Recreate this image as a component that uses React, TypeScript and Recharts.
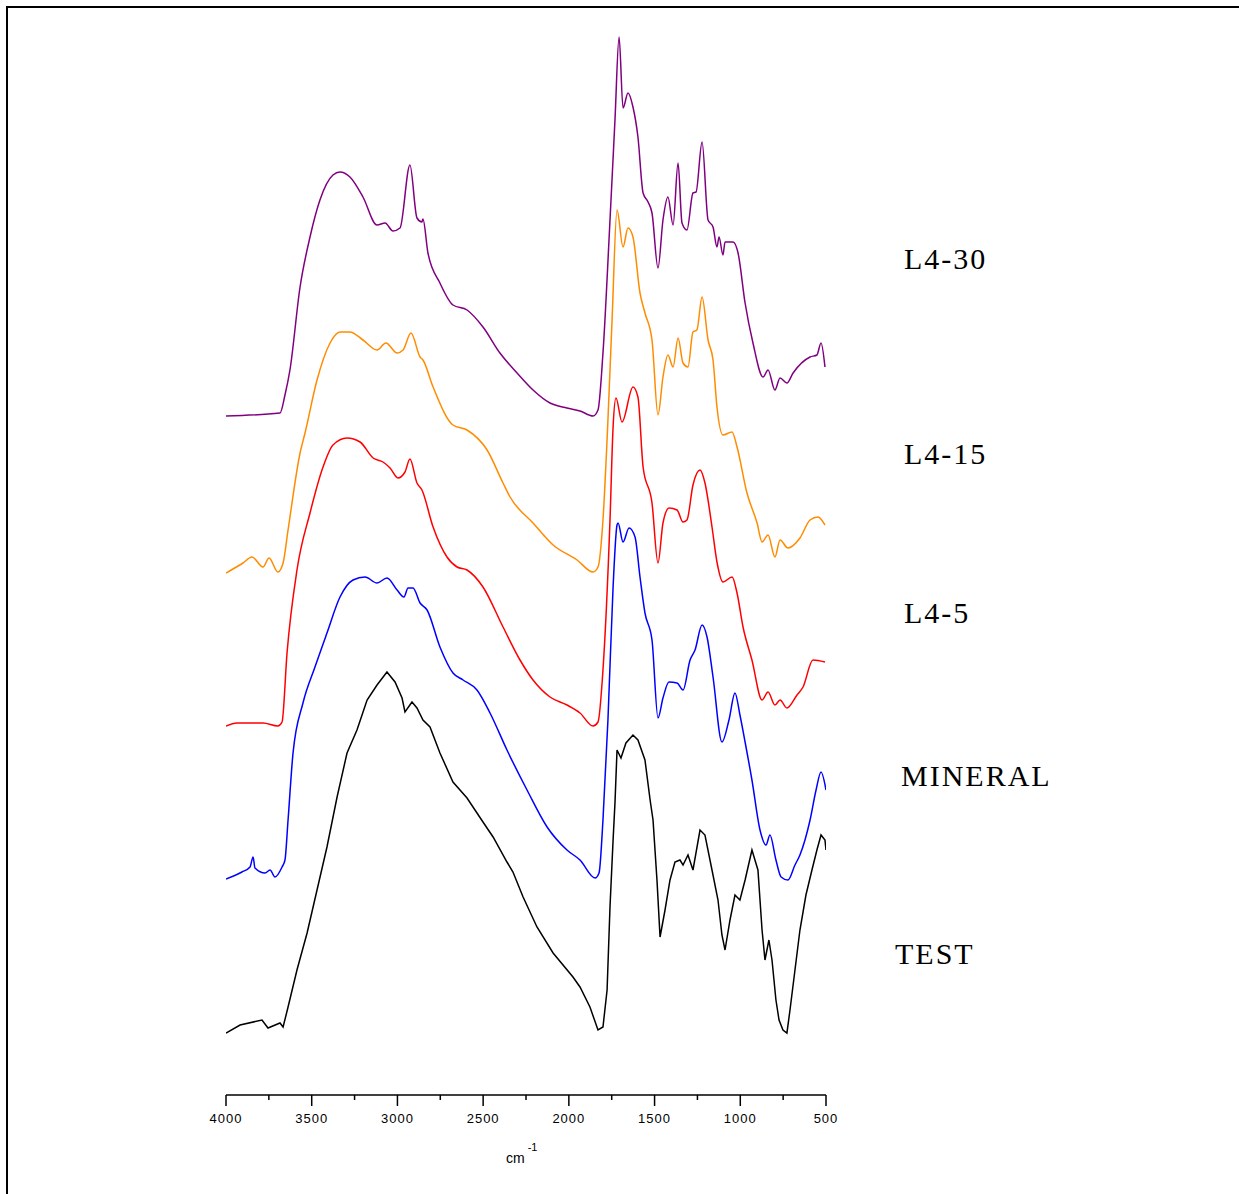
import React from "react";
import { LineChart, Line, XAxis, YAxis } from "recharts";

// FTIR spectra (wavenumber cm-1, offset absorbance in arbitrary units)
const L4_30: [number, number][] = [
  [4000, 679], [3685, 682], [3656, 700], [3627, 725], [3568, 808], [3510, 858], [3452, 895], [3376, 920], [3335, 923],
  [3277, 918], [3201, 898], [3119, 870], [3072, 872], [3026, 864], [2985, 867], [2927, 930], [2886, 877],
  [2857, 873], [2851, 876], [2822, 842], [2752, 812], [2676, 790], [2594, 785], [2501, 768], [2402, 742],
  [2302, 722], [2209, 705], [2110, 692], [2011, 687], [1935, 684], [1859, 679], [1830, 685], [1801, 742],
  [1760, 875], [1731, 975], [1707, 1058], [1684, 987], [1655, 1002], [1626, 988], [1597, 958], [1567, 902],
  [1538, 893], [1515, 882], [1480, 827], [1451, 875], [1422, 898], [1392, 870], [1363, 932], [1340, 872],
  [1311, 865], [1276, 902], [1258, 903], [1223, 953], [1188, 875], [1159, 868], [1136, 848], [1124, 858],
  [1101, 840], [1089, 853], [1042, 853], [1013, 842], [972, 792], [926, 752], [867, 718], [838, 725],
  [798, 705], [768, 717], [728, 712], [692, 722], [593, 738], [553, 740], [529, 752], [506, 728],
];

const L4_15: [number, number][] = [
  [4000, 522], [3901, 532], [3848, 538], [3784, 528], [3749, 537], [3697, 523], [3667, 532], [3638, 565],
  [3568, 642], [3539, 662], [3469, 715], [3393, 752], [3335, 763], [3277, 763], [3201, 755], [3119, 745],
  [3067, 752], [3002, 742], [2967, 745], [2921, 762], [2868, 738], [2851, 735], [2792, 708], [2676, 670],
  [2594, 665], [2477, 645], [2384, 612], [2343, 598], [2209, 572], [2092, 550], [1952, 535], [1859, 523],
  [1830, 528], [1801, 575], [1772, 675], [1748, 775], [1719, 885], [1684, 848], [1655, 867], [1626, 858],
  [1585, 802], [1556, 782], [1515, 755], [1480, 680], [1451, 718], [1422, 740], [1392, 728], [1363, 757],
  [1334, 732], [1305, 728], [1276, 763], [1253, 765], [1223, 798], [1188, 755], [1159, 735], [1136, 688],
  [1101, 660], [1048, 663], [1019, 648], [961, 602], [902, 572], [873, 553], [838, 560], [798, 538],
  [768, 555], [722, 547], [652, 557], [593, 575], [547, 578], [506, 570],
];

const L4_5: [number, number][] = [
  [4000, 369], [3936, 372], [3784, 372], [3697, 369], [3673, 373], [3644, 442], [3586, 525], [3510, 582],
  [3434, 628], [3376, 650], [3294, 657], [3218, 653], [3142, 637], [3084, 633], [3043, 627], [2997, 617],
  [2956, 623], [2927, 636], [2886, 612], [2857, 605], [2792, 568], [2711, 538], [2652, 528], [2594, 525],
  [2501, 508], [2384, 468], [2285, 435], [2209, 415], [2110, 398], [2011, 390], [1935, 382], [1859, 369],
  [1830, 373], [1801, 425], [1760, 575], [1742, 668], [1725, 697], [1690, 673], [1626, 708], [1597, 698],
  [1567, 628], [1515, 592], [1480, 532], [1451, 572], [1416, 587], [1369, 585], [1334, 573], [1311, 575],
  [1276, 610], [1235, 625], [1206, 612], [1165, 568], [1136, 533], [1101, 513], [1048, 518], [1019, 502],
  [984, 468], [932, 435], [873, 395], [838, 403], [798, 390], [768, 395], [728, 387], [669, 400],
  [634, 408], [576, 435], [506, 433],
];

const MINERAL: [number, number][] = [
  [4000, 216], [3907, 223], [3860, 228], [3842, 238], [3831, 227], [3772, 222], [3743, 225], [3714, 218],
  [3673, 228], [3656, 235], [3638, 275], [3609, 342], [3551, 392], [3481, 428], [3411, 462], [3335, 498],
  [3259, 515], [3189, 518], [3119, 512], [3061, 517], [3002, 505], [2962, 498], [2938, 507], [2909, 507],
  [2868, 492], [2827, 485], [2752, 448], [2676, 422], [2617, 415], [2536, 405], [2460, 382], [2361, 345],
  [2244, 305], [2127, 268], [2011, 245], [1935, 235], [1847, 217], [1824, 222], [1801, 275], [1772, 375],
  [1742, 508], [1719, 570], [1713, 572], [1684, 553], [1649, 567], [1614, 558], [1585, 518], [1556, 482],
  [1515, 455], [1480, 377], [1451, 397], [1416, 413], [1369, 412], [1334, 405], [1293, 435], [1264, 445],
  [1223, 470], [1194, 458], [1159, 418], [1107, 353], [1066, 375], [1031, 402], [1002, 380], [972, 353],
  [932, 315], [885, 265], [850, 250], [827, 260], [792, 235], [762, 218], [722, 215], [681, 230],
  [652, 240], [593, 275], [558, 305], [529, 323], [500, 305],
];

const TEST: [number, number][] = [
  [4000, 62], [3918, 70], [3790, 75], [3755, 67], [3685, 72], [3667, 68], [3638, 88], [3586, 125],
  [3527, 162], [3469, 205], [3411, 248], [3352, 298], [3294, 342], [3236, 365], [3177, 395], [3119, 410],
  [3061, 423], [3014, 413], [2973, 397], [2956, 383], [2915, 393], [2886, 387], [2851, 375], [2810, 368],
  [2752, 342], [2676, 313], [2594, 297], [2501, 273], [2442, 258], [2361, 233], [2326, 223], [2267, 198],
  [2186, 168], [2092, 142], [1976, 118], [1935, 108], [1877, 88], [1830, 65], [1801, 68], [1777, 105],
  [1760, 188], [1742, 255], [1731, 292], [1719, 345], [1696, 337], [1667, 352], [1626, 360], [1597, 355],
  [1556, 335], [1526, 295], [1509, 275], [1486, 215], [1468, 158], [1439, 185], [1410, 215], [1381, 233],
  [1352, 235], [1334, 230], [1305, 240], [1276, 225], [1235, 265], [1206, 260], [1165, 225], [1130, 195],
  [1107, 160], [1089, 145], [1060, 175], [1031, 200], [1002, 195], [972, 215], [932, 245], [897, 225],
  [873, 165], [856, 135], [833, 155], [815, 135], [792, 95], [774, 75], [751, 65], [728, 62],
  [710, 85], [681, 125], [652, 165], [617, 200], [582, 225], [553, 245], [529, 260], [506, 255], [500, 245],
];

const MAJOR_TICKS = [4000, 3500, 3000, 2500, 2000, 1500, 1000, 500];
const MINOR_TICKS = [3750, 3250, 2750, 2250, 1750, 1250, 750];

const SERIES = [
  { name: "L4-30", points: L4_30, color: "#800080", curve: "monotone" },
  { name: "L4-15", points: L4_15, color: "#FF8C00", curve: "monotone" },
  { name: "L4-5", points: L4_5, color: "#FF0000", curve: "monotone" },
  { name: "MINERAL", points: MINERAL, color: "#0000FF", curve: "monotone" },
  { name: "TEST", points: TEST, color: "#000000", curve: "linear" },
];

const LABELS = [
  { text: "L4-30", left: 904, top: 241 },
  { text: "L4-15", left: 904, top: 436 },
  { text: "L4-5", left: 904, top: 595 },
  { text: "MINERAL", left: 901, top: 758 },
  { text: "TEST", left: 895, top: 936 },
];

const toData = (pts: [number, number][]) => pts.map(([x, y]) => ({ x, y }));

const Tick = (props: any) => {
  const { x, y, payload } = props;
  const v = payload.value;
  const major = MAJOR_TICKS.includes(v);
  return (
    <g>
      <line x1={x} y1={y} x2={x} y2={y + (major ? 11 : 5)} stroke="#000" strokeWidth={1.5} />
      {major && (
        <text
          x={x}
          y={y + 28}
          textAnchor="middle"
          fontFamily="Liberation Sans, Arial, sans-serif"
          fontSize={13}
          letterSpacing={1}
          fill="#000"
        >
          {v}
        </text>
      )}
    </g>
  );
};

export default function App() {
  return (
    <div
      style={{
        position: "absolute",
        left: 0,
        top: 0,
        width: 1239,
        height: 1194,
        background: "#fff",
        overflow: "hidden",
      }}
    >
      <div
        style={{
          position: "absolute",
          left: 6,
          top: 6,
          width: 1260,
          height: 1220,
          borderTop: "2px solid #000",
          borderLeft: "2px solid #000",
        }}
      />
      <LineChart
        width={1239}
        height={1194}
        margin={{ top: 5, right: 413, left: 226, bottom: 59 }}
        style={{ position: "absolute", left: 0, top: 0 }}
      >
        <XAxis
          type="number"
          dataKey="x"
          domain={[500, 4000]}
          reversed
          ticks={[...MAJOR_TICKS, ...MINOR_TICKS].sort((a, b) => b - a)}
          interval={0}
          tickSize={0}
          tickMargin={0}
          tickLine={false}
          tick={<Tick />}
          axisLine={{ stroke: "#000", strokeWidth: 1.5 }}
          height={40}
          allowDataOverflow
        />
        <YAxis type="number" dataKey="y" domain={[0, 1090]} hide allowDataOverflow />
        {SERIES.map((s) => (
          <Line
            key={s.name}
            data={toData(s.points)}
            dataKey="y"
            type={s.curve as any}
            stroke={s.color}
            strokeWidth={1.5}
            dot={false}
            activeDot={false}
            isAnimationActive={false}
          />
        ))}
      </LineChart>
      <div
        style={{
          position: "absolute",
          left: 506,
          top: 1150,
          fontFamily: "Liberation Sans, Arial, sans-serif",
          fontSize: 14,
          color: "#000",
        }}
      >
        cm
        <span style={{ position: "relative", top: -12, fontSize: 11, marginLeft: 3 }}>-1</span>
      </div>
      {LABELS.map((l) => (
        <div
          key={l.text}
          style={{
            position: "absolute",
            left: l.left,
            top: l.top,
            fontFamily: "Liberation Serif, Times New Roman, serif",
            fontSize: 30,
            letterSpacing: 2,
            lineHeight: "36px",
            color: "#000",
            whiteSpace: "nowrap",
          }}
        >
          {l.text}
        </div>
      ))}
    </div>
  );
}
